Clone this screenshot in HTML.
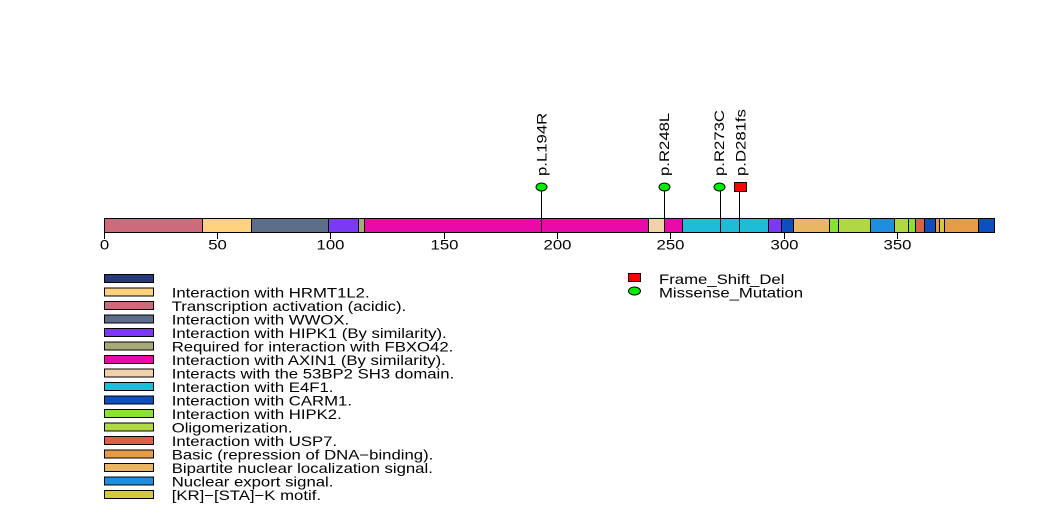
<!DOCTYPE html>
<html><head><meta charset="utf-8"><style>
html,body{margin:0;padding:0;background:#fff;width:1047px;height:524px;overflow:hidden}
svg{display:block}
text{font-family:"Liberation Sans",Arial,sans-serif;font-size:13.5px;fill:#000}
</style></head><body>
<svg width="1047" height="524" viewBox="0 0 1047 524" xmlns="http://www.w3.org/2000/svg">
<rect width="1047" height="524" fill="#fff"/>
<!-- stems -->
<g stroke="#000" stroke-width="1">
<line x1="541.5" y1="187" x2="541.5" y2="232.5"/>
<line x1="664.5" y1="187" x2="664.5" y2="232.5"/>
<line x1="720.5" y1="187" x2="720.5" y2="232.5"/>
<line x1="739.5" y1="187" x2="739.5" y2="232.5"/>
</g>
<!-- bar -->
<g stroke="#000" stroke-width="1" shape-rendering="crispEdges">
<rect x="104.5" y="218.5" width="98" height="14" fill="#cd6b7d"/>
<rect x="202.5" y="218.5" width="49" height="14" fill="#fdd17d"/>
<rect x="251.5" y="218.5" width="77" height="14" fill="#5c6e8a"/>
<rect x="328.5" y="218.5" width="30" height="14" fill="#7b39f5"/>
<rect x="358.5" y="218.5" width="6" height="14" fill="#aaa97a"/>
<rect x="364.5" y="218.5" width="284" height="14" fill="#ea0aaa"/>
<rect x="648.5" y="218.5" width="16" height="14" fill="#f2d2aa"/>
<rect x="664.5" y="218.5" width="18" height="14" fill="#ea0aaa"/>
<rect x="682.5" y="218.5" width="86" height="14" fill="#1fbcd8"/>
<rect x="768.5" y="218.5" width="13" height="14" fill="#7b39f5"/>
<rect x="781.5" y="218.5" width="12" height="14" fill="#0e4fbf"/>
<rect x="793.5" y="218.5" width="36" height="14" fill="#e8b664"/>
<rect x="829.5" y="218.5" width="9" height="14" fill="#88e231"/>
<rect x="838.5" y="218.5" width="32" height="14" fill="#b0d843"/>
<rect x="870.5" y="218.5" width="24" height="14" fill="#1e8fe0"/>
<rect x="894.5" y="218.5" width="14" height="14" fill="#b0d843"/>
<rect x="908.5" y="218.5" width="7" height="14" fill="#88e231"/>
<rect x="915.5" y="218.5" width="9" height="14" fill="#dd6146"/>
<rect x="924.5" y="218.5" width="11" height="14" fill="#0e4fbf"/>
<rect x="935.5" y="218.5" width="4" height="14" fill="#e89b46"/>
<rect x="939.5" y="218.5" width="5" height="14" fill="#d4c93b"/>
<rect x="944.5" y="218.5" width="34" height="14" fill="#e89b46"/>
<rect x="978.5" y="218.5" width="16" height="14" fill="#0e4fbf"/>
</g>
<!-- stem lines through bar -->
<g stroke="#000" stroke-width="1" shape-rendering="crispEdges">
<line x1="541.5" y1="218" x2="541.5" y2="232.5"/>
<line x1="720.5" y1="218" x2="720.5" y2="232.5"/>
<line x1="739.5" y1="218" x2="739.5" y2="232.5"/>
</g>
<!-- ticks -->
<g stroke="#000" stroke-width="1" shape-rendering="crispEdges">
<line x1="104.5" y1="232" x2="104.5" y2="239"/>
<line x1="217.5" y1="232" x2="217.5" y2="239"/>
<line x1="330.5" y1="232" x2="330.5" y2="239"/>
<line x1="444.5" y1="232" x2="444.5" y2="239"/>
<line x1="557.5" y1="232" x2="557.5" y2="239"/>
<line x1="670.5" y1="232" x2="670.5" y2="239"/>
<line x1="784.5" y1="232" x2="784.5" y2="239"/>
<line x1="897.5" y1="232" x2="897.5" y2="239"/>
</g>
<g text-anchor="middle">
<text transform="translate(104.5,249.7) scale(1.24,1)">0</text>
<text transform="translate(217.5,249.7) scale(1.24,1)">50</text>
<text transform="translate(330.5,249.7) scale(1.24,1)">100</text>
<text transform="translate(444.5,249.7) scale(1.24,1)">150</text>
<text transform="translate(557.5,249.7) scale(1.24,1)">200</text>
<text transform="translate(670.5,249.7) scale(1.24,1)">250</text>
<text transform="translate(784.5,249.7) scale(1.24,1)">300</text>
<text transform="translate(897.5,249.7) scale(1.24,1)">350</text>
</g>
<!-- markers -->
<g stroke="#000" stroke-width="1">
<ellipse cx="541.5" cy="187" rx="5.5" ry="4" fill="#00ee00"/>
<ellipse cx="664.5" cy="187" rx="5.5" ry="4" fill="#00ee00"/>
<ellipse cx="719.5" cy="187" rx="5.5" ry="4" fill="#00ee00"/>
<rect x="734.5" y="182.5" width="12" height="9" fill="#ff0000" shape-rendering="crispEdges"/>
</g>
<!-- mutation labels -->
<text transform="translate(546.4,176) rotate(-90) scale(1.24,1)">p.L194R</text>
<text transform="translate(669,176) rotate(-90) scale(1.24,1)">p.R248L</text>
<text transform="translate(724,176) rotate(-90) scale(1.24,1)">p.R273C</text>
<text transform="translate(745.5,176) rotate(-90) scale(1.24,1)">p.D281fs</text>
<!-- legend boxes -->
<g stroke="#000" stroke-width="1" shape-rendering="crispEdges">
<rect x="104.5" y="274.5" width="49" height="8" fill="#263a7a"/>
<rect x="104.5" y="288" width="49" height="8" fill="#fdd17d"/>
<rect x="104.5" y="301.5" width="49" height="8" fill="#cd6b7d"/>
<rect x="104.5" y="315" width="49" height="8" fill="#5c6e8a"/>
<rect x="104.5" y="328.5" width="49" height="8" fill="#7b39f5"/>
<rect x="104.5" y="342" width="49" height="8" fill="#aaa97a"/>
<rect x="104.5" y="355.5" width="49" height="8" fill="#ea0aaa"/>
<rect x="104.5" y="369" width="49" height="8" fill="#f2d2aa"/>
<rect x="104.5" y="382.5" width="49" height="8" fill="#1fbcd8"/>
<rect x="104.5" y="396" width="49" height="8" fill="#0e4fbf"/>
<rect x="104.5" y="409.5" width="49" height="8" fill="#88e231"/>
<rect x="104.5" y="423" width="49" height="8" fill="#b0d843"/>
<rect x="104.5" y="436.5" width="49" height="8" fill="#dd6146"/>
<rect x="104.5" y="450" width="49" height="8" fill="#e89b46"/>
<rect x="104.5" y="463.5" width="49" height="8" fill="#e8b664"/>
<rect x="104.5" y="477" width="49" height="8" fill="#1e8fe0"/>
<rect x="104.5" y="490.5" width="49" height="8" fill="#d4c93b"/>
</g>
<g>
<text transform="translate(171.7,297.6) scale(1.24,1)">Interaction with HRMT1L2.</text>
<text transform="translate(171.7,311.1) scale(1.24,1)">Transcription activation (acidic).</text>
<text transform="translate(171.7,324.6) scale(1.24,1)">Interaction with WWOX.</text>
<text transform="translate(171.7,338.1) scale(1.24,1)">Interaction with HIPK1 (By similarity).</text>
<text transform="translate(171.7,351.6) scale(1.24,1)">Required for interaction with FBXO42.</text>
<text transform="translate(171.7,365.1) scale(1.24,1)">Interaction with AXIN1 (By similarity).</text>
<text transform="translate(171.7,378.6) scale(1.24,1)">Interacts with the 53BP2 SH3 domain.</text>
<text transform="translate(171.7,392.1) scale(1.24,1)">Interaction with E4F1.</text>
<text transform="translate(171.7,405.6) scale(1.24,1)">Interaction with CARM1.</text>
<text transform="translate(171.7,419.1) scale(1.24,1)">Interaction with HIPK2.</text>
<text transform="translate(171.7,432.6) scale(1.24,1)">Oligomerization.</text>
<text transform="translate(171.7,446.1) scale(1.24,1)">Interaction with USP7.</text>
<text transform="translate(171.7,459.6) scale(1.24,1)">Basic (repression of DNA−binding).</text>
<text transform="translate(171.7,473.1) scale(1.24,1)">Bipartite nuclear localization signal.</text>
<text transform="translate(171.7,486.6) scale(1.24,1)">Nuclear export signal.</text>
<text transform="translate(171.7,500.1) scale(1.24,1)">[KR]−[STA]−K motif.</text>
</g>
<!-- right legend -->
<rect x="628.5" y="273.5" width="12" height="8" fill="#ff0000" stroke="#000" stroke-width="1" shape-rendering="crispEdges"/>
<ellipse cx="634.5" cy="291" rx="6" ry="4" fill="#00ee00" stroke="#000" stroke-width="1"/>
<text transform="translate(659,284.1) scale(1.24,1)">Frame_Shift_Del</text>
<text transform="translate(659,297.6) scale(1.24,1)">Missense_Mutation</text>
</svg>
</body></html>
